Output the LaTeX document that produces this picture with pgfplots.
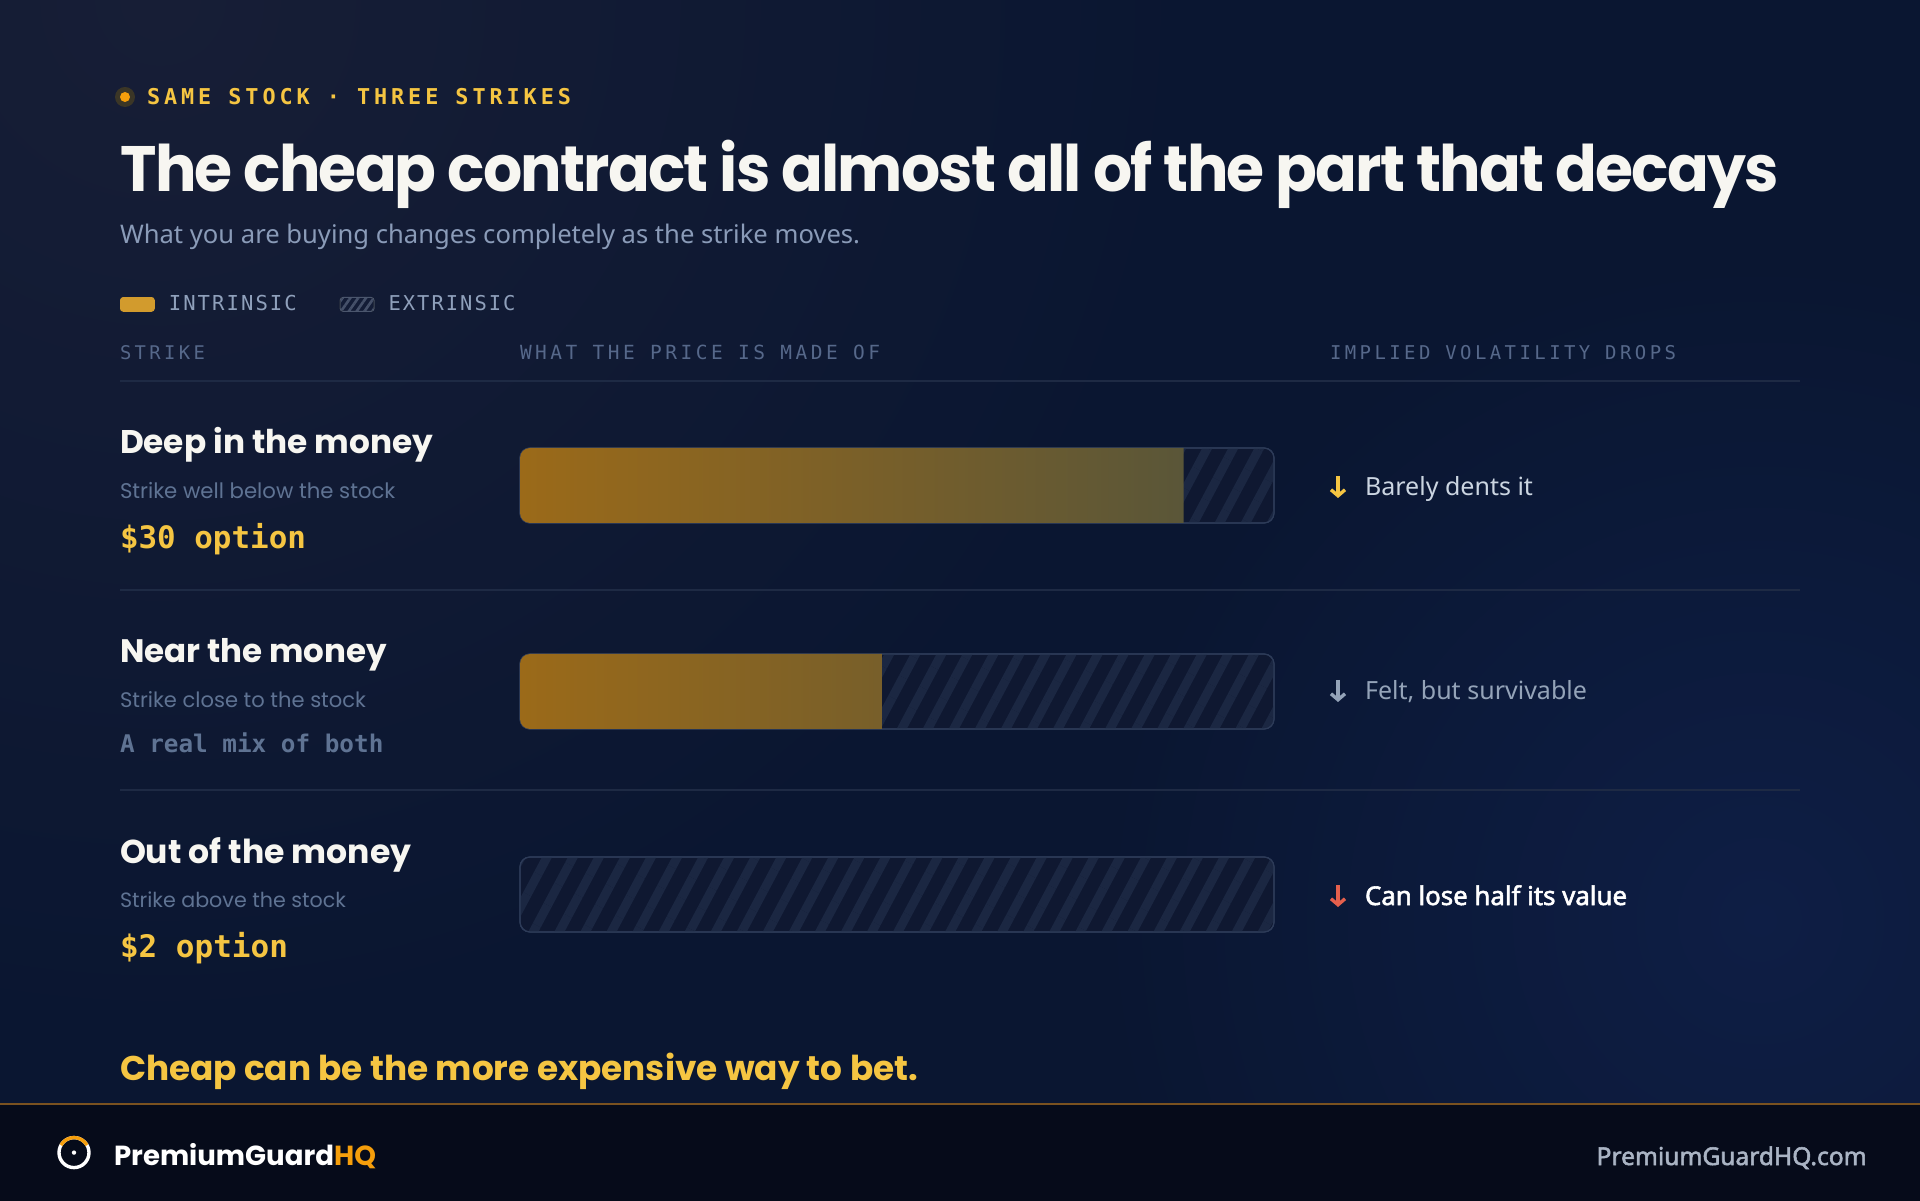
\documentclass[border=0pt]{standalone}
\usepackage{pgfplots}
\pgfplotsset{compat=1.18}
\usepackage{fontspec}
\usepackage{graphicx}
\usetikzlibrary{patterns.meta,arrows.meta}
\setmainfont{Noto Sans}[AutoFakeBold=2.2]
\newfontfamily\disp{Poppins}
\newfontfamily\disptight{Poppins}[LetterSpace=-3]
\newfontfamily\mono{DejaVu Sans Mono}
\newfontfamily\monowide{DejaVu Sans Mono}[LetterSpace=18]
\newfontfamily\monomid{DejaVu Sans Mono}[LetterSpace=10]

\definecolor{bg}{HTML}{0A1631}
\definecolor{bgtl}{HTML}{171E36}
\definecolor{bgbr}{HTML}{0E1E45}
\definecolor{foot}{HTML}{060B1A}
\definecolor{footline}{HTML}{7A5220}
\definecolor{gold}{HTML}{F5C542}
\definecolor{amber}{HTML}{F59E0B}
\definecolor{titlec}{HTML}{F7F6F1}
\definecolor{subc}{HTML}{8A9BB8}
\definecolor{muted}{HTML}{5F7393}
\definecolor{headc}{HTML}{56688A}
\definecolor{rulec}{HTML}{1E2A44}
\definecolor{lightc}{HTML}{CBD5E1}
\definecolor{grayc}{HTML}{94A3B8}
\definecolor{redc}{HTML}{E5604D}
\definecolor{legendtext}{HTML}{8FA0BB}
\definecolor{swgold}{HTML}{D29B2D}
\definecolor{trackfill}{HTML}{0F1831}
\definecolor{stripe}{HTML}{1B2742}
\definecolor{trackborder}{HTML}{2D3B58}
\definecolor{igA}{HTML}{9B6A19}
\definecolor{igB}{HTML}{5A5638}
\definecolor{igborder}{HTML}{A87A2A}
\definecolor{comc}{HTML}{AAB4C4}
\definecolor{dotring}{HTML}{3B3626}

\pgfdeclarehorizontalshading{intr}{100bp}{color(0bp)=(igA); color(25bp)=(igA); color(75bp)=(igB); color(100bp)=(igB)}

\newcommand{\txt}[4]{\node[anchor=base west, inner sep=0pt, outer sep=0pt] at (#1,#2) {\resizebox{#3}{!}{#4}};}

\pgfplotsset{baraxis/.style={at={(260pt,100pt)}, anchor=south west, scale only axis,
  width=377pt, height=300pt, xmin=0, xmax=100, ymin=100, ymax=400,
  hide axis, xbar, bar width=37.5pt, clip=false}}

\begin{document}
\begin{tikzpicture}[x=1pt,y=1pt]
\useasboundingbox (0,0) rectangle (960,600);
% background
\fill[bg] (-3,-3) rectangle (963,603);
\begin{scope}
\clip (-3,48) rectangle (963,603);
\shade[inner color=bgtl, outer color=bg] (80,600) circle (520);
\shade[inner color=bgbr, outer color=bg] (880,140) circle (330);
\end{scope}
\fill[foot] (-3,-3) rectangle (963,48);
\draw[footline, line width=0.8pt] (-3,48) -- (963,48);

% eyebrow
\fill[dotring] (62.5,551.5) circle (5);
\fill[amber] (62.5,551.5) circle (2.5);
\txt{73.5}{547.5}{212pt}{\monowide\bfseries\fontsize{10}{12}\selectfont\color{gold}SAME STOCK · THREE STRIKES}

% title + subtitle
\node[anchor=base west, inner sep=0pt] at (60,504) {\resizebox{829pt}{25.7pt}{\disptight\bfseries\fontsize{34}{40}\selectfont\color{titlec}The cheap contract is almost all of the part that decays}};
\txt{60}{478}{370pt}{\fontsize{13}{15}\selectfont\color{subc}What you are buying changes completely as the strike moves.}

% column headers
\txt{60}{420}{42.5pt}{\monowide\fontsize{8.5}{10}\selectfont\color{headc}STRIKE}
\txt{260}{420}{180pt}{\monowide\fontsize{8.5}{10}\selectfont\color{headc}WHAT THE PRICE IS MADE OF}
\txt{665}{420}{173pt}{\monowide\fontsize{8.5}{10}\selectfont\color{headc}IMPLIED VOLATILITY DROPS}
\draw[rulec, line width=0.6pt] (60,409.5) -- (900,409.5);
\draw[rulec, line width=0.6pt] (60,305) -- (900,305);
\draw[rulec, line width=0.6pt] (60,205) -- (900,205);

% row labels
\txt{60}{373.2}{156.5pt}{\disp\bfseries\fontsize{16}{19}\selectfont\color{titlec}Deep in the money}
\txt{60}{350.8}{137.7pt}{\disp\fontsize{10}{12}\selectfont\color{muted}Strike well below the stock}
\txt{60}{325.5}{93pt}{\mono\bfseries\fontsize{13}{15}\selectfont\color{gold}\$30 option}

\txt{60}{268.5}{133.5pt}{\disp\bfseries\fontsize{16}{19}\selectfont\color{titlec}Near the money}
\txt{60}{246.2}{123pt}{\disp\fontsize{10}{12}\selectfont\color{muted}Strike close to the stock}
\txt{60}{224}{131.7pt}{\mono\bfseries\fontsize{11}{13}\selectfont\color{muted}A real mix of both}

\txt{60}{168.5}{145.7pt}{\disp\bfseries\fontsize{16}{19}\selectfont\color{titlec}Out of the money}
\txt{60}{146.5}{113pt}{\disp\fontsize{10}{12}\selectfont\color{muted}Strike above the stock}
\txt{60}{121.5}{84pt}{\mono\bfseries\fontsize{13}{15}\selectfont\color{gold}\$2 option}

% right column
\draw[gold, line width=1.7pt, -{Straight Barb[length=3pt,width=7pt]}] (669,362) -- (669,351);
\txt{682.5}{352}{84pt}{\fontsize{12}{14}\selectfont\color{lightc}Barely dents it}
\draw[grayc, line width=1.7pt, -{Straight Barb[length=3pt,width=7pt]}] (669,260) -- (669,249);
\txt{682.5}{250}{111pt}{\fontsize{12}{14}\selectfont\color{grayc}Felt, but survivable}
\draw[redc, line width=1.7pt, -{Straight Barb[length=3pt,width=7pt]}] (669,157.5) -- (669,146.5);
\txt{682.5}{147.5}{131pt}{\bfseries\fontsize{12}{14}\selectfont\color{white}Can lose half its value}

% track (whole price = extrinsic background) + legend
\begin{axis}[baraxis,
  legend columns=2,
  legend style={at={(axis description cs:-0.5305,1.1593)}, anchor=west,
    draw=none, fill=none, inner sep=0pt, outer sep=0pt,
    text=legendtext,
    nodes={inner sep=0pt, outer sep=0pt},
    /tikz/every even column/.append style={column sep=21pt}},
  ]
\addlegendimage{legend image code/.code={
  \fill[swgold, rounded corners=1.5pt] (0pt,-3.5pt) rectangle (17pt,3.5pt);
  \path (24pt,0pt);}}
\addlegendentry{\resizebox{64pt}{!}{\monomid\fontsize{9.5}{11}\selectfont INTRINSIC}}
\addlegendimage{legend image code/.code={
  \fill[color=trackfill!70!stripe, rounded corners=1.5pt] (0pt,-3.5pt) rectangle (17pt,3.5pt);
  \fill[pattern={Lines[angle=55,distance=3.2pt,line width=1.3pt]}, pattern color=trackborder!80!white!70!stripe, rounded corners=1.5pt] (0pt,-3.5pt) rectangle (17pt,3.5pt);
  \draw[trackborder!70!white!60!stripe, line width=0.5pt, rounded corners=1.5pt] (0pt,-3.5pt) rectangle (17pt,3.5pt);
  \path (24pt,0pt);}}
\addlegendentry{\resizebox{63.5pt}{!}{\monomid\fontsize{9.5}{11}\selectfont EXTRINSIC}}
\addplot[forget plot, bar shift=0pt, rounded corners=5pt, fill=trackfill,
  draw=trackborder, line width=0.6pt,
  postaction={pattern={Lines[angle=62,distance=11.5pt,line width=4.5pt]}, pattern color=stripe}]
  coordinates {(100,357.25) (100,254.25) (100,152.75)};
\end{axis}

% intrinsic share, clipped to the rounded track shape
\begin{scope}
\clip[rounded corners=5pt] (260,338.5) rectangle (637,376)
  (260,235.5) rectangle (637,273) (260,134) rectangle (637,171.5);
\begin{axis}[baraxis]
\addplot[bar shift=0pt, shading=intr, draw=none]
  coordinates {(88,357.25) (48,254.25)};
\end{axis}
\end{scope}
% thin golden rim on the intrinsic part (top, bottom, left)
\begin{scope}
\clip (259,130) rectangle (260.3,380) (260,130) rectangle (637,380);
\end{scope}

% tagline
\txt{60}{60}{399pt}{\disp\bfseries\fontsize{19}{22}\selectfont\color{gold}Cheap can be the more expensive way to bet.}

% footer
\draw[white, line width=1.7pt] (37,23.7) circle (7.5);
\draw[amber, line width=1.7pt] (37,23.7) ++(150:7.5) arc (150:30:7.5);
\fill[white] (37,23.7) circle (1.1);
\txt{57}{17.5}{131pt}{\disp\bfseries\fontsize{13}{15}\selectfont\color{white}PremiumGuard\color{amber}HQ}
\node[anchor=base east, inner sep=0pt] at (933.5,17.5) {\resizebox{135pt}{!}{\bfseries\fontsize{11}{13}\selectfont\color{comc}PremiumGuardHQ.com}};
\end{tikzpicture}
\end{document}
